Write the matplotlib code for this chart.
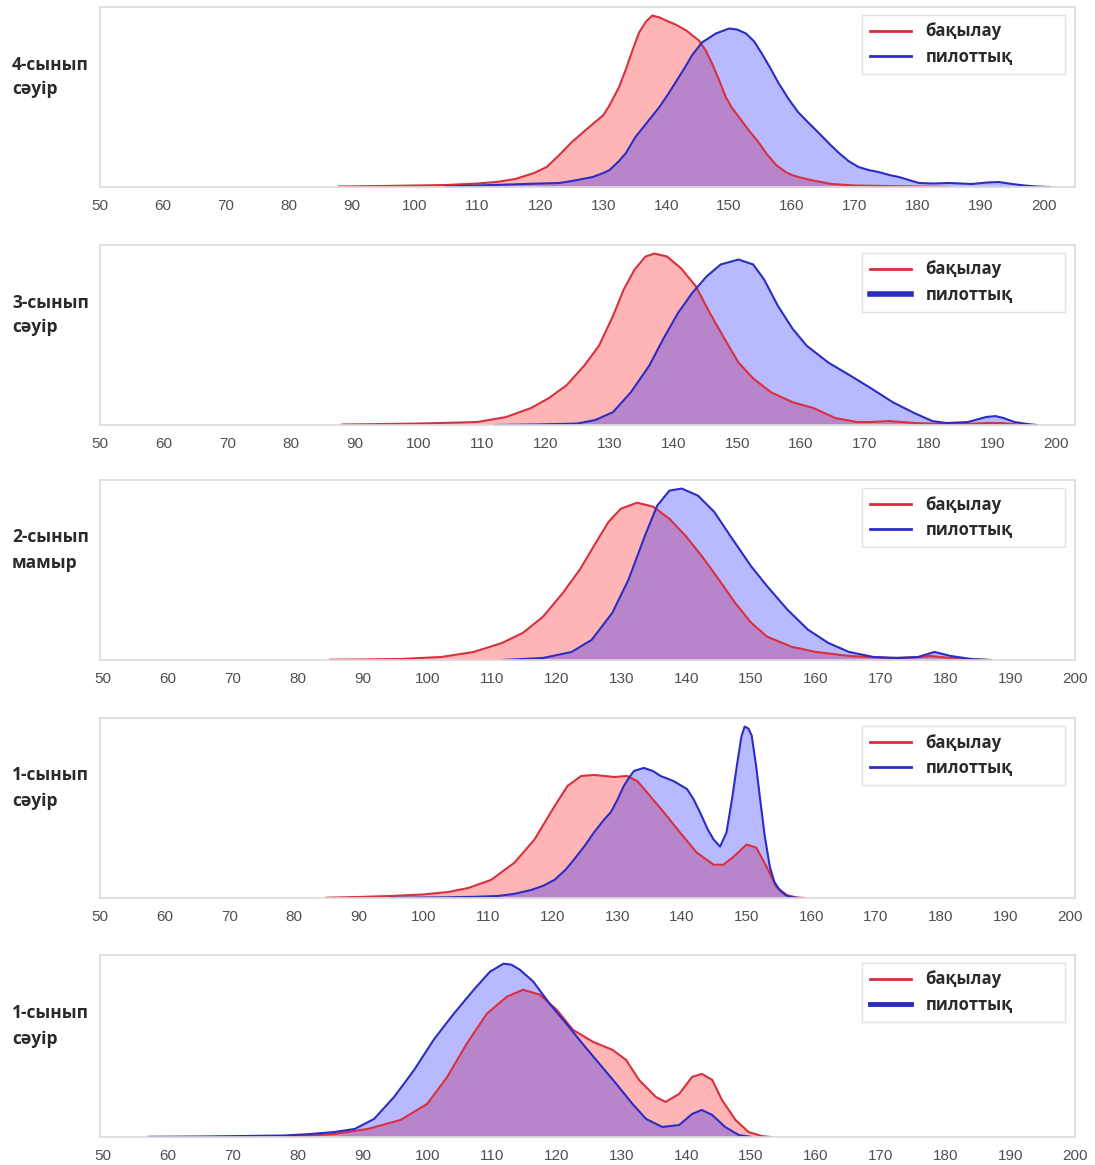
import matplotlib
matplotlib.use("Agg")
import matplotlib.pyplot as plt
from matplotlib.lines import Line2D

plt.rcParams["font.family"] = ["Open Sans", "DejaVu Sans"]

_COLORS = {
    "ctrl_line": "#d8303c",
    "ctrl_fill": "#ff1010",
    "pilot_line": "#2c2cc4",
    "pilot_fill": "#1010ff",
    "spine": "#dcdcdc",
    "tick": "#505050",
    "text": "#2a2a2a",
}

ROW_LABELS = ["4-сынып\nсәуір", "3-сынып\nсәуір", "2-сынып\nмамыр", "1-сынып\nсәуір", "1-сынып\nсәуір"]
SERIES_NAMES = ["бақылау", "пилоттық"]
X_TICKS = list(range(50, 201, 10))

# 4-сынып сәуір
G4_CTRL_X = [88, 95, 100, 105, 110, 113, 116, 119, 121, 123, 125, 127, 128.3, 130, 131, 132.5, 133.6, 134.7,
             135.7, 136.8, 137.8, 139, 140, 141.5, 143.2, 145.2, 146.3, 147.3, 148.5, 149.5, 150.5, 151.6, 153,
             154.8, 156, 157.5, 159, 160, 161, 163, 166.3, 170, 175, 180, 185]
G4_CTRL_Y = [0.5, 1, 1.5, 2, 3.5, 5, 8, 14, 20, 32, 45, 56, 63, 72, 82, 100, 118, 138,
             155, 166, 172, 170, 167, 163, 157, 147, 137, 124, 106, 90, 79, 70, 58,
             44, 33, 22, 15, 12, 10, 7, 3, 1.5, 1, 0.5, 0]
G4_PILOT_X = [105, 110, 115, 120, 123, 125, 128.3, 130, 131, 132.5, 133.6, 135.1, 137, 138.9, 140.3, 141.6, 143,
              144.1, 145.7, 147.9, 150, 151.3, 152.7, 154, 155.2, 156.5, 157.9, 159.5, 161, 162.7, 164.3, 166,
              167.5, 169, 170.6, 172.2, 173.8, 175.5, 177, 178.6, 180.2, 182.5, 185, 188.6, 191, 192.9, 195,
              197, 199, 201]
G4_PILOT_Y = [0.5, 1.5, 2.5, 3.5, 4, 6, 10, 14, 17, 26, 34, 50, 65, 80, 93, 106, 120,
              132, 145, 154, 159, 158, 154, 146, 134, 120, 104, 88, 75, 64, 54, 43,
              34, 26, 20, 17, 15, 12, 10, 7, 4, 3.5, 4, 3, 4.5, 5, 3,
              1.5, 0.5, 0]

# 3-сынып сәуір
G3_CTRL_X = [88, 95, 100, 103.5, 109.2, 113.7, 117.6, 120.4, 123.2, 126, 128.3, 130.5, 132.2, 133.9, 135.6, 137,
             139, 141.2, 143.5, 145.7, 148, 150.2, 152.5, 155.3, 158.7, 162, 165.4, 168.8, 171, 173.8, 177.8,
             182.3, 186, 189, 191.5, 194, 196]
G3_CTRL_Y = [0.5, 1, 1.5, 2, 3, 8, 17, 27, 40, 60, 80, 110, 137, 157, 170, 173,
             170, 158, 140, 113, 87, 63, 47, 33, 23, 17, 7, 3, 3, 4, 2,
             1, 1, 2, 2, 0.5, 0]
G3_PILOT_X = [112, 118, 122, 124.9, 127.7, 130.5, 133.3, 136.2, 138.4, 140.7, 142.9, 145.2, 147.4, 150.2, 152.5,
              154.2, 156.4, 158.7, 160.9, 164.3, 167.7, 171, 174.4, 177.8, 180.6, 182.8, 186.2, 189, 190.5,
              191.8, 193.5, 195.5, 197]
G3_PILOT_Y = [0, 0.5, 1, 1.5, 5, 13, 33, 60, 87, 113, 133, 150, 162, 167, 162,
              147, 120, 97, 80, 63, 50, 37, 23, 12, 4, 2, 3, 8, 9,
              7, 3, 1, 0]

# 2-сынып мамыр
G2_CTRL_X = [85, 89.6, 95.9, 102.2, 107.2, 111.6, 114.8, 117.9, 121, 123.6, 126.1, 128, 129.9, 132.4, 134.9,
             137.4, 139.9, 142.4, 145, 147.5, 150, 152.5, 156.3, 160, 165.1, 171.4, 175, 177.7, 180.8, 184, 187]
G2_CTRL_Y = [0.3, 0.5, 1, 3, 8, 17, 27, 43, 67, 90, 117, 137, 150, 156, 152,
             140, 123, 103, 80, 57, 37, 23, 13, 8, 4, 2, 2.5, 4, 2, 0.5, 0]
G2_PILOT_X = [111.6, 117.9, 122.3, 125.4, 128.6, 131.1, 133.6, 135.5, 137.4, 139.3, 141.8, 144.3, 146.8, 150,
              152.5, 155.6, 158.8, 161.9, 165.1, 168.9, 172.6, 175.8, 178.3, 180.8, 184, 187]
G2_PILOT_Y = [0, 2, 8, 20, 47, 80, 123, 153, 168, 170, 163, 147, 123, 93,
              73, 50, 30, 17, 8, 3, 2, 3, 8, 4, 1, 0]

# 1-сынып сәуір (жоғарғы)
G1A_CTRL_X = [85, 90, 95, 100, 103.9, 107, 110.5, 114.1, 117.2, 120.3, 122.3, 124.4, 126.4, 128, 129.5, 131.5,
              133.1, 135.1, 137.2, 139.7, 142.3, 144.9, 146.4, 148, 150, 151.5, 153.1, 154.6, 156.2, 157.7, 159]
G1A_CTRL_Y = [0.3, 1, 2, 3.5, 6, 10, 18, 35, 58, 91, 111, 121, 122, 121, 120, 121,
              116, 101, 85, 65, 45, 33, 33, 41, 53, 50, 31, 11, 3, 0.5, 0]
G1A_PILOT_X = [95, 100, 103.9, 108, 111.5, 114, 116.7, 118.5, 120.3, 122, 123.3, 125, 126.4, 128, 129, 130, 131,
               132, 132.6, 134.1, 135.5, 136.7, 138.7, 140.8, 141.8, 142.8, 144, 144.9, 145.9, 146.9, 147.8,
               148.5, 149.2, 149.7, 150.3, 150.8, 151.5, 152.1, 152.8, 153.6, 154.3, 155.1, 156, 156.7, 158]
G1A_PILOT_Y = [0.2, 0.5, 0.7, 1.2, 2, 4, 8, 12, 18, 28, 38, 52, 65, 78, 85, 97, 111,
               121, 126, 129, 126, 121, 116, 108, 98, 85, 68, 58, 51, 65, 100,
               131, 160, 170, 168, 161, 130, 98, 62, 31, 16, 8, 3, 1, 0]

# 1-сынып сәуір (төменгі)
G1B_CTRL_X = [78, 82, 85.7, 90.8, 95.9, 100, 103.1, 106.1, 109.2, 112.3, 114.8, 117.4, 120, 122.5, 125.6, 128.6,
              130.7, 132.7, 135.3, 136.8, 138.9, 140.9, 142.4, 144, 145.5, 147.6, 149.6, 151.6, 153]
G1B_CTRL_Y = [0.5, 1.5, 3, 8, 17, 33, 60, 93, 123, 140, 147, 142, 127, 107, 95, 87,
              77, 57, 40, 35, 43, 60, 63, 57, 37, 17, 5, 1, 0]
G1B_PILOT_X = [57, 65, 72, 78, 82, 85.7, 88.8, 91.8, 94.9, 98, 101, 104.1, 107.2, 109.7, 111.8, 113, 114.3,
               116.4, 118.9, 121.5, 124, 126.6, 129.2, 131.7, 133.8, 136.3, 138.9, 140.9, 142.4, 144, 146,
               148.1, 150.1]
G1B_PILOT_Y = [0.2, 0.5, 1, 1.5, 3, 5, 8, 18, 40, 67, 97, 123, 147, 165, 173, 172, 167,
               155, 133, 113, 93, 73, 53, 33, 18, 10, 12, 23, 27, 22, 10,
               2, 0]

PANELS = [
    (G4_CTRL_X, G4_CTRL_Y, G4_PILOT_X, G4_PILOT_Y),
    (G3_CTRL_X, G3_CTRL_Y, G3_PILOT_X, G3_PILOT_Y),
    (G2_CTRL_X, G2_CTRL_Y, G2_PILOT_X, G2_PILOT_Y),
    (G1A_CTRL_X, G1A_CTRL_Y, G1A_PILOT_X, G1A_PILOT_Y),
    (G1B_CTRL_X, G1B_CTRL_Y, G1B_PILOT_X, G1B_PILOT_Y),
]
X_LIMITS = [(50, 205), (50, 203), (49.5, 200), (50, 200.8), (49.5, 200)]
PILOT_HANDLE_LW = [2.0, 4.0, 2.0, 2.0, 3.5]

W, H = 1095, 1165
AX_ROWS = [(7, 187), (245, 425), (480, 660), (718, 898), (955, 1137)]
AX_LEFT, AX_RIGHT = 100, 1075


def _style_axis(ax, xlim):
    ax.set_xlim(*xlim)
    ax.set_xticks(X_TICKS)
    ax.set_yticks([])
    ax.tick_params(axis="x", length=0, pad=8.5, labelsize=11, colors=_COLORS["tick"])
    for lab in ax.get_xticklabels():
        lab.set_family(["Liberation Sans Narrow", "Liberation Sans", "DejaVu Sans"])
    for sp in ax.spines.values():
        sp.set_color(_COLORS["spine"])
        sp.set_linewidth(1.2)


fig = plt.figure(figsize=(W / 100, H / 100), dpi=100)
fig.patch.set_facecolor("white")

for i, (cx, cy, px, py) in enumerate(PANELS):
    top, bottom = AX_ROWS[i]
    ax = fig.add_axes([AX_LEFT / W, 1 - bottom / H, (AX_RIGHT - AX_LEFT) / W, (bottom - top) / H])
    ax.fill_between(cx, 0, cy, color=_COLORS["ctrl_fill"], alpha=0.31, linewidth=0)
    ax.plot(cx, cy, color=_COLORS["ctrl_line"], linewidth=1.5)
    ax.fill_between(px, 0, py, color=_COLORS["pilot_fill"], alpha=0.29, linewidth=0)
    ax.plot(px, py, color=_COLORS["pilot_line"], linewidth=1.5)
    ax.set_ylim(0, max(max(cy), max(py)) * 1.05)
    _style_axis(ax, X_LIMITS[i])

    handles = [
        Line2D([], [], color=_COLORS["ctrl_line"], linewidth=2.0),
        Line2D([], [], color=_COLORS["pilot_line"], linewidth=PILOT_HANDLE_LW[i]),
    ]
    x0 = (862 - AX_LEFT) / (AX_RIGHT - AX_LEFT)
    x1 = (1065 - AX_LEFT) / (AX_RIGHT - AX_LEFT)
    ytop = 1 - 8 / (bottom - top)
    leg = ax.legend(handles, SERIES_NAMES, loc="upper left", mode="expand",
                    bbox_to_anchor=(x0, 0, x1 - x0, ytop), borderaxespad=0,
                    prop={"size": 12, "weight": "bold"},
                    handlelength=2.5, handletextpad=0.85, labelspacing=0.45,
                    frameon=True, fancybox=False, edgecolor="#dddddd", borderpad=0.45)
    for t in leg.get_texts():
        t.set_color(_COLORS["text"])

    mid = (top + bottom) / 2 - 20
    fig.text(12 / W, 1 - mid / H, ROW_LABELS[i], ha="left", va="center",
             fontsize=12.5, fontweight="bold", color=_COLORS["text"], linespacing=1.5)

fig.savefig("out.png", dpi=100, facecolor="white")
